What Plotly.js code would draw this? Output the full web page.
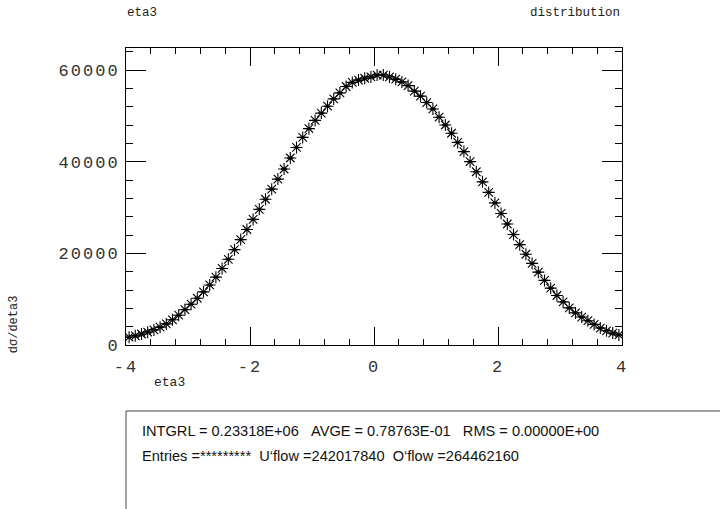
<!DOCTYPE html>
<html>
<head>
<meta charset="utf-8">
<script src="https://cdn.plot.ly/plotly-3.0.1.min.js"></script>
<style>
  html, body { margin: 0; padding: 0; background: #fff; }
  #chart { width: 720px; height: 509px; }
  .xtick text, .ytick text { letter-spacing: 2px; }
</style>
</head>
<body>
<div id="chart"></div>
<script>
// bin centers of eta3 (80 bins, -4..4)
const binCenters = [
 -3.95,-3.85,-3.75,-3.65,-3.55,-3.45,-3.35,-3.25,-3.15,-3.05,
 -2.95,-2.85,-2.75,-2.65,-2.55,-2.45,-2.35,-2.25,-2.15,-2.05,
 -1.95,-1.85,-1.75,-1.65,-1.55,-1.45,-1.35,-1.25,-1.15,-1.05,
 -0.95,-0.85,-0.75,-0.65,-0.55,-0.45,-0.35,-0.25,-0.15,-0.05,
  0.05, 0.15, 0.25, 0.35, 0.45, 0.55, 0.65, 0.75, 0.85, 0.95,
  1.05, 1.15, 1.25, 1.35, 1.45, 1.55, 1.65, 1.75, 1.85, 1.95,
  2.05, 2.15, 2.25, 2.35, 2.45, 2.55, 2.65, 2.75, 2.85, 2.95,
  3.05, 3.15, 3.25, 3.35, 3.45, 3.55, 3.65, 3.75, 3.85, 3.95
];
// dsigma/deta3 values
const dsigma = [
  1700, 2000, 2400, 2800, 3300, 3900, 4600, 5500, 6500, 7700,
  8900,10200,11600,13100,14800,16700,18700,20800,23000,25200,
 27400,29600,31800,34000,36200,38400,40800,43100,45300,47200,
 49000,50600,52100,53700,55000,56400,57300,57800,58200,58500,
 58900,58900,58500,58000,57400,56600,55400,54300,52900,51500,
 49700,48000,46200,44200,42200,40000,37800,35600,33300,31000,
 28700,26400,24100,21900,19800,17800,15900,14100,12400,10800,
  9400, 8100, 7000, 6100, 5300, 4500, 3700, 3100, 2600, 2200
];
const halfBin = 0.05;
const xTickVals = [-4, -2, 0, 2, 4];
const xTickText = ['-4', '-2', '0', '2', '4'];
const yTickVals = [0, 20000, 40000, 60000];
const yTickText = ['0', '20000', '40000', '60000'];

const titleLeft = 'eta3';
const titleRight = 'distribution';
const xTitle = 'eta3';
const yTitle = 'dσ/deta3';
const statsLine1 = 'INTGRL = 0.23318E+06\u00a0\u00a0\u00a0AVGE = 0.78763E-01\u00a0\u00a0\u00a0RMS = 0.00000E+00';
const statsLine2 = 'Entries =*********\u00a0\u00a0U\u2018flow =242017840\u00a0\u00a0O\u2018flow =264462160';

const trace = {
  x: binCenters,
  y: dsigma,
  type: 'scatter',
  mode: 'markers',
  marker: { symbol: 'asterisk-open', size: 10, color: '#000', line: { color: '#000', width: 1.1 } },
  error_x: { type: 'constant', value: halfBin, width: 0, thickness: 1.5, color: '#000' },
  hoverinfo: 'skip'
};

const tickFont = { family: 'Liberation Mono, DejaVu Sans Mono, monospace', size: 17, color: '#333' };
const monoSmall = { family: 'Liberation Mono, DejaVu Sans Mono, monospace', size: 12.5, color: '#222' };

const layout = {
  width: 720, height: 509,
  margin: { l: 126, r: 98, t: 48, b: 164, pad: 0 },
  paper_bgcolor: '#fff', plot_bgcolor: '#fff',
  showlegend: false,
  xaxis: {
    range: [-4, 4], showgrid: false, zeroline: false,
    showline: true, linecolor: '#000', linewidth: 1, mirror: 'ticks',
    ticks: 'inside', ticklen: 18, tickwidth: 1, tickcolor: '#000',
    tickvals: xTickVals, ticktext: xTickText, tickfont: tickFont,
    ticklabelstandoff: 6,
    minor: { dtick: 0.4, tick0: -4, ticks: 'inside', ticklen: 6, tickwidth: 1, tickcolor: '#000', showgrid: false }
  },
  yaxis: {
    range: [0, 64800], showgrid: false, zeroline: false,
    showline: true, linecolor: '#000', linewidth: 1, mirror: 'ticks',
    ticks: 'inside', ticklen: 20, tickwidth: 1, tickcolor: '#000',
    tickvals: yTickVals, ticktext: yTickText, tickfont: tickFont,
    ticklabelstandoff: 2,
    minor: { dtick: 4000, tick0: 0, ticks: 'inside', ticklen: 7, tickwidth: 1, tickcolor: '#000', showgrid: false }
  },
  annotations: [
    { text: titleLeft, xref: 'paper', yref: 'paper', x: -0.002, y: 1.118, xanchor: 'left', yanchor: 'middle', showarrow: false, font: monoSmall },
    { text: titleRight, xref: 'paper', yref: 'paper', x: 1.0, y: 1.118, xanchor: 'right', yanchor: 'middle', showarrow: false, font: monoSmall },
    { text: xTitle, xref: 'paper', yref: 'paper', x: 0.0872, y: -0.125, xanchor: 'center', yanchor: 'middle', showarrow: false, font: { family: 'Liberation Mono, DejaVu Sans Mono, monospace', size: 13, color: '#222' } },
    { text: yTitle, xref: 'paper', yref: 'paper', x: -0.2258, y: 0.07, xanchor: 'center', yanchor: 'middle', textangle: -90, showarrow: false, font: { family: 'Liberation Mono, DejaVu Sans Mono, monospace', size: 12, color: '#222' } },
    { text: statsLine1, xref: 'paper', yref: 'paper', x: 0.0282, y: -0.288, xanchor: 'left', yanchor: 'middle', showarrow: false, font: { family: 'Liberation Sans, Arial, sans-serif', size: 14.6, color: '#111' } },
    { text: statsLine2, xref: 'paper', yref: 'paper', x: 0.0282, y: -0.374, xanchor: 'left', yanchor: 'middle', showarrow: false, font: { family: 'Liberation Sans, Arial, sans-serif', size: 14.6, color: '#111' } }
  ],
  shapes: [
    { type: 'rect', xref: 'paper', yref: 'paper', x0: 0, x1: 1.25, y0: -1.0, y1: -0.2222, line: { color: '#444', width: 1 }, fillcolor: 'rgba(0,0,0,0)', layer: 'above' }
  ]
};

Plotly.newPlot('chart', [trace], layout, { staticPlot: true, displayModeBar: false });
</script>
</body>
</html>
